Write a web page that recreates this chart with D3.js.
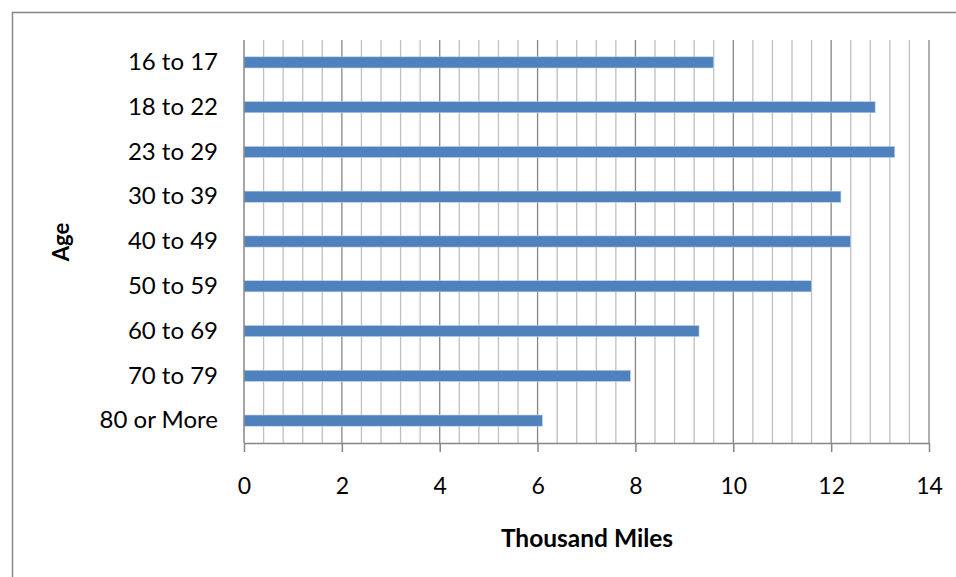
<!DOCTYPE html>
<html><head><meta charset="utf-8">
<script src="https://cdn.jsdelivr.net/npm/d3@7"></script>
<style>body{margin:0;background:#fff}svg{display:block}text{font-family:Lato,"Open Sans",sans-serif}</style>
</head><body>
<svg id="c" width="956" height="577"></svg>
<script>
const categories = ["16 to 17","18 to 22","23 to 29","30 to 39","40 to 49","50 to 59","60 to 69","70 to 79","80 or More"];
const values = [9.6, 12.9, 13.3, 12.2, 12.4, 11.6, 9.3, 7.9, 6.1];
const xTicks = [0, 2, 4, 6, 8, 10, 12, 14];
const xTitle = "Thousand Miles";
const yTitle = "Age";

const svg = d3.select("#c");
const L = 244, R = 929, T = 40, B = 443;
svg.append("rect").attr("x", 12.5).attr("y", 12.5).attr("width", 960).attr("height", 600)
  .attr("fill", "none").attr("stroke", "#868686").attr("stroke-width", 1.5);

const x = d3.scaleLinear().domain([0, 14]).range([L, R]);
const y = d3.scaleBand().domain(categories).range([T, B]).paddingInner(0.75).paddingOuter(0.375);

const minor = d3.range(0, 14.001, 0.4).map(v => +v.toFixed(1)).filter(v => Math.abs(v / 2 - Math.round(v / 2)) > 1e-6);
svg.append("g").selectAll("line").data(minor).join("line")
  .attr("x1", d => x(d)).attr("x2", d => x(d)).attr("y1", T).attr("y2", B)
  .attr("stroke", "#bfbfbf").attr("stroke-width", 1.3);
svg.append("g").selectAll("line").data(xTicks.filter(d => d > 0)).join("line")
  .attr("x1", d => x(d)).attr("x2", d => x(d)).attr("y1", T).attr("y2", B)
  .attr("stroke", "#868686").attr("stroke-width", 1.3);

svg.append("g").selectAll("rect").data(values).join("rect")
  .attr("x", x(0)).attr("y", (d, i) => y(categories[i]))
  .attr("width", d => x(d) - x(0)).attr("height", y.bandwidth())
  .attr("fill", "#4f81bd").attr("stroke", "#c6d5ea").attr("stroke-width", 0.6);

svg.append("line").attr("x1", L).attr("x2", L).attr("y1", T).attr("y2", B)
  .attr("stroke", "#868686").attr("stroke-width", 1.5);

const xAxis = svg.append("g").attr("transform", `translate(0,${B})`)
  .call(d3.axisBottom(x).tickValues(xTicks).tickSize(9).tickPadding(26).tickSizeOuter(0));
xAxis.select(".domain").attr("stroke", "#868686").attr("stroke-width", 1.5);
xAxis.selectAll(".tick line").attr("stroke", "#868686").attr("stroke-width", 1.5);
xAxis.selectAll(".tick text").attr("font-size", 23).attr("fill", "#000").style("font-family", "Lato, sans-serif");

const yAxis = svg.append("g").attr("transform", `translate(${L},0)`)
  .call(d3.axisLeft(y).tickSize(0).tickPadding(26));
yAxis.select(".domain").remove();
yAxis.selectAll(".tick text").attr("font-size", 24).attr("fill", "#000").style("font-family", "Lato, sans-serif");

svg.append("text").attr("x", 587).attr("y", 547).attr("text-anchor", "middle")
  .attr("font-size", 24.5).attr("font-weight", "bold").text(xTitle);
svg.append("text").attr("transform", "translate(69,242) rotate(-90)").attr("text-anchor", "middle")
  .attr("font-size", 22).attr("font-weight", "bold").text(yTitle);
</script>
</body></html>
